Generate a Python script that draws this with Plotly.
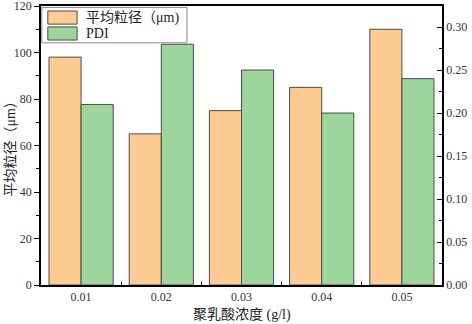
import plotly.graph_objects as go

categories = ["0.01", "0.02", "0.03", "0.04", "0.05"]
size_um = [98, 65, 75, 85, 110]
pdi = [0.21, 0.28, 0.25, 0.20, 0.24]
size_name = "平均粒径（μm)"
pdi_name = "PDI"
xlabel = "聚乳酸浓度 (g/l)"
ylabel = "平均粒径（μm）"

FONT = "Liberation Serif, Noto Sans CJK SC"
ORANGE = "#FECC92"
GREEN = "#9DD59C"
EDGE = "#4a4a4a"

fig = go.Figure()
fig.add_trace(go.Bar(x=categories, y=size_um, name=size_name, offsetgroup=1,
                     marker=dict(color=ORANGE, line=dict(color=EDGE, width=1)),
                     yaxis="y", showlegend=False))
fig.add_trace(go.Bar(x=categories, y=pdi, name=pdi_name, offsetgroup=2,
                     marker=dict(color=GREEN, line=dict(color=EDGE, width=1)),
                     yaxis="y2", showlegend=False))

# manual legend
shapes = [
    dict(type="rect", xref="paper", yref="paper", x0=0.002, x1=0.364, y0=0.868, y1=0.995,
         line=dict(color="#888888", width=1), fillcolor="white", layer="above"),
    dict(type="rect", xref="paper", yref="paper", x0=0.017, x1=0.090, y0=0.935, y1=0.982,
         line=dict(color=EDGE, width=1), fillcolor=ORANGE, layer="above"),
    dict(type="rect", xref="paper", yref="paper", x0=0.017, x1=0.090, y0=0.878, y1=0.925,
         line=dict(color=EDGE, width=1), fillcolor=GREEN, layer="above"),
]
annotations = [
    dict(xref="paper", yref="paper", x=0.108, y=0.958, text=size_name, showarrow=False,
         xanchor="left", yanchor="middle", font=dict(family=FONT, size=14, color="#222")),
    dict(xref="paper", yref="paper", x=0.108, y=0.901, text=pdi_name, showarrow=False,
         xanchor="left", yanchor="middle", font=dict(family=FONT, size=14, color="#222")),
    # axis titles
    dict(xref="paper", yref="paper", x=0.5, y=-0.107, text=xlabel, showarrow=False,
         xanchor="center", yanchor="middle", font=dict(family=FONT, size=14, color="#222")),
    dict(xref="paper", yref="paper", x=-0.077, y=0.5, text=ylabel, showarrow=False,
         textangle=-90, xanchor="center", yanchor="middle",
         font=dict(family=FONT, size=14, color="#222")),
]

fig.update_layout(
    width=472, height=324,
    margin=dict(l=41, r=30, t=6, b=39),
    paper_bgcolor="white", plot_bgcolor="white",
    barmode="group", bargap=0.2, bargroupgap=0,
    font=dict(family=FONT, size=12, color="#222"),
    shapes=shapes, annotations=annotations,
    xaxis=dict(type="category", range=[-0.5, 4.5], showline=True, linecolor="black",
               linewidth=1.5, mirror=True, ticks="inside", tickson="boundaries",
               ticklen=3, tickcolor="black", showgrid=False, automargin=False,
               tickfont=dict(family=FONT, size=12, color="#333")),
    yaxis=dict(range=[0, 120], dtick=20, showline=True, linecolor="black", linewidth=1.5,
               ticks="outside", ticklen=5, tickcolor="black", showgrid=False, zeroline=False,
               automargin=False, ticklabeloverflow="allow",
               minor=dict(dtick=10, ticks="outside", ticklen=3, tickcolor="black"),
               tickfont=dict(family=FONT, size=12, color="#333")),
    yaxis2=dict(range=[0, 0.3245], dtick=0.05, tickformat=".2f", overlaying="y", side="right",
                showline=True, linecolor="black", linewidth=1.5, ticks="inside", ticklen=5,
                tickcolor="black", showgrid=False, zeroline=False, automargin=False,
                ticklabeloverflow="allow",
                minor=dict(dtick=0.025, ticks="inside", ticklen=3, tickcolor="black"),
                tickfont=dict(family=FONT, size=12, color="#333")),
)

fig.write_html("out.html", config={"displayModeBar": False},
               post_script="document.body.style.margin='0';document.body.style.overflow='hidden';")
